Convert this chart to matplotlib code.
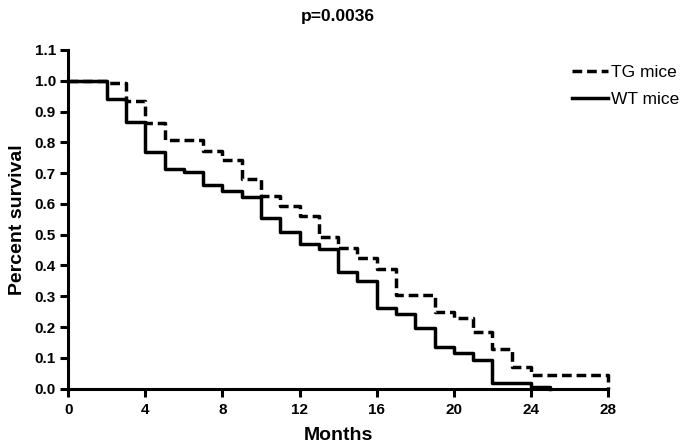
import matplotlib
matplotlib.use("Agg")
import matplotlib.pyplot as plt
from matplotlib.lines import Line2D

# Kaplan-Meier steps (months, survival fraction)
meses_tg = [0, 2, 3, 4, 5, 7, 8, 9, 10, 11, 12, 13, 14, 15, 16, 17, 19, 20, 21, 22, 23, 24, 28]
sobrev_tg = [1.0, 0.993, 0.935, 0.864, 0.806, 0.773, 0.743, 0.68, 0.625, 0.593, 0.562,
             0.492, 0.456, 0.425, 0.39, 0.305, 0.248, 0.23, 0.185, 0.128, 0.071, 0.043, 0.0]

meses_wt = [0, 2, 3, 4, 5, 6, 7, 8, 9, 10, 11, 12, 13, 14, 15, 16, 17, 18, 19, 20, 21, 22, 24, 25]
sobrev_wt = [1.0, 0.94, 0.866, 0.77, 0.713, 0.703, 0.661, 0.643, 0.622, 0.553, 0.508, 0.47,
             0.453, 0.38, 0.35, 0.263, 0.242, 0.196, 0.135, 0.115, 0.093, 0.02, 0.006, 0.0]

x_ticks = [0, 4, 8, 12, 16, 20, 24, 28]
y_ticks = [i / 10 for i in range(12)]

plt.rcParams['font.family'] = ['Liberation Sans', 'DejaVu Sans']

tracejado = (0, (2.8, 1.4))

fig = plt.figure(figsize=(6.85, 4.46), dpi=100)
ax = fig.add_axes([0.0997, 0.1285, 0.7879, 0.7596])

ax.step(meses_tg, sobrev_tg, where='post', color='black', lw=2.5,
        linestyle=tracejado, clip_on=False, label='TG mice')
ax.step(meses_wt, sobrev_wt, where='post', color='black', lw=2.5,
        clip_on=False, label='WT mice')

ax.set_xlim(0, 28)
ax.set_ylim(0, 1.1)
ax.set_xticks(x_ticks)
ax.set_yticks(y_ticks)
ax.set_yticklabels([f"{v:.1f}" for v in y_ticks])

for s in ['top', 'right']:
    ax.spines[s].set_visible(False)
for s in ['left', 'bottom']:
    ax.spines[s].set_linewidth(2.2)
ax.tick_params(width=2.2, length=5.5, labelsize=11, direction='out')
ax.tick_params(axis='x', pad=5)
for lbl in ax.get_xticklabels() + ax.get_yticklabels():
    lbl.set_fontweight('bold')

ax.set_xlabel("Months", fontsize=14, fontweight='bold', labelpad=7)
ax.set_ylabel("Percent survival", fontsize=14, fontweight='bold', labelpad=6)
ax.set_title("p=0.0036", fontsize=12.5, fontweight='bold', pad=21)

handles = [Line2D([], [], color='black', lw=2.5, linestyle=tracejado),
           Line2D([], [], color='black', lw=2.5)]
ax.legend(handles, ['TG mice', 'WT mice'], loc='upper left',
          bbox_to_anchor=(0.933, 0.955), frameon=False, fontsize=12.5,
          borderpad=0, borderaxespad=0,
          handlelength=2.1, handletextpad=0.15, labelspacing=0.65)

fig.savefig("out.png", dpi=100)
